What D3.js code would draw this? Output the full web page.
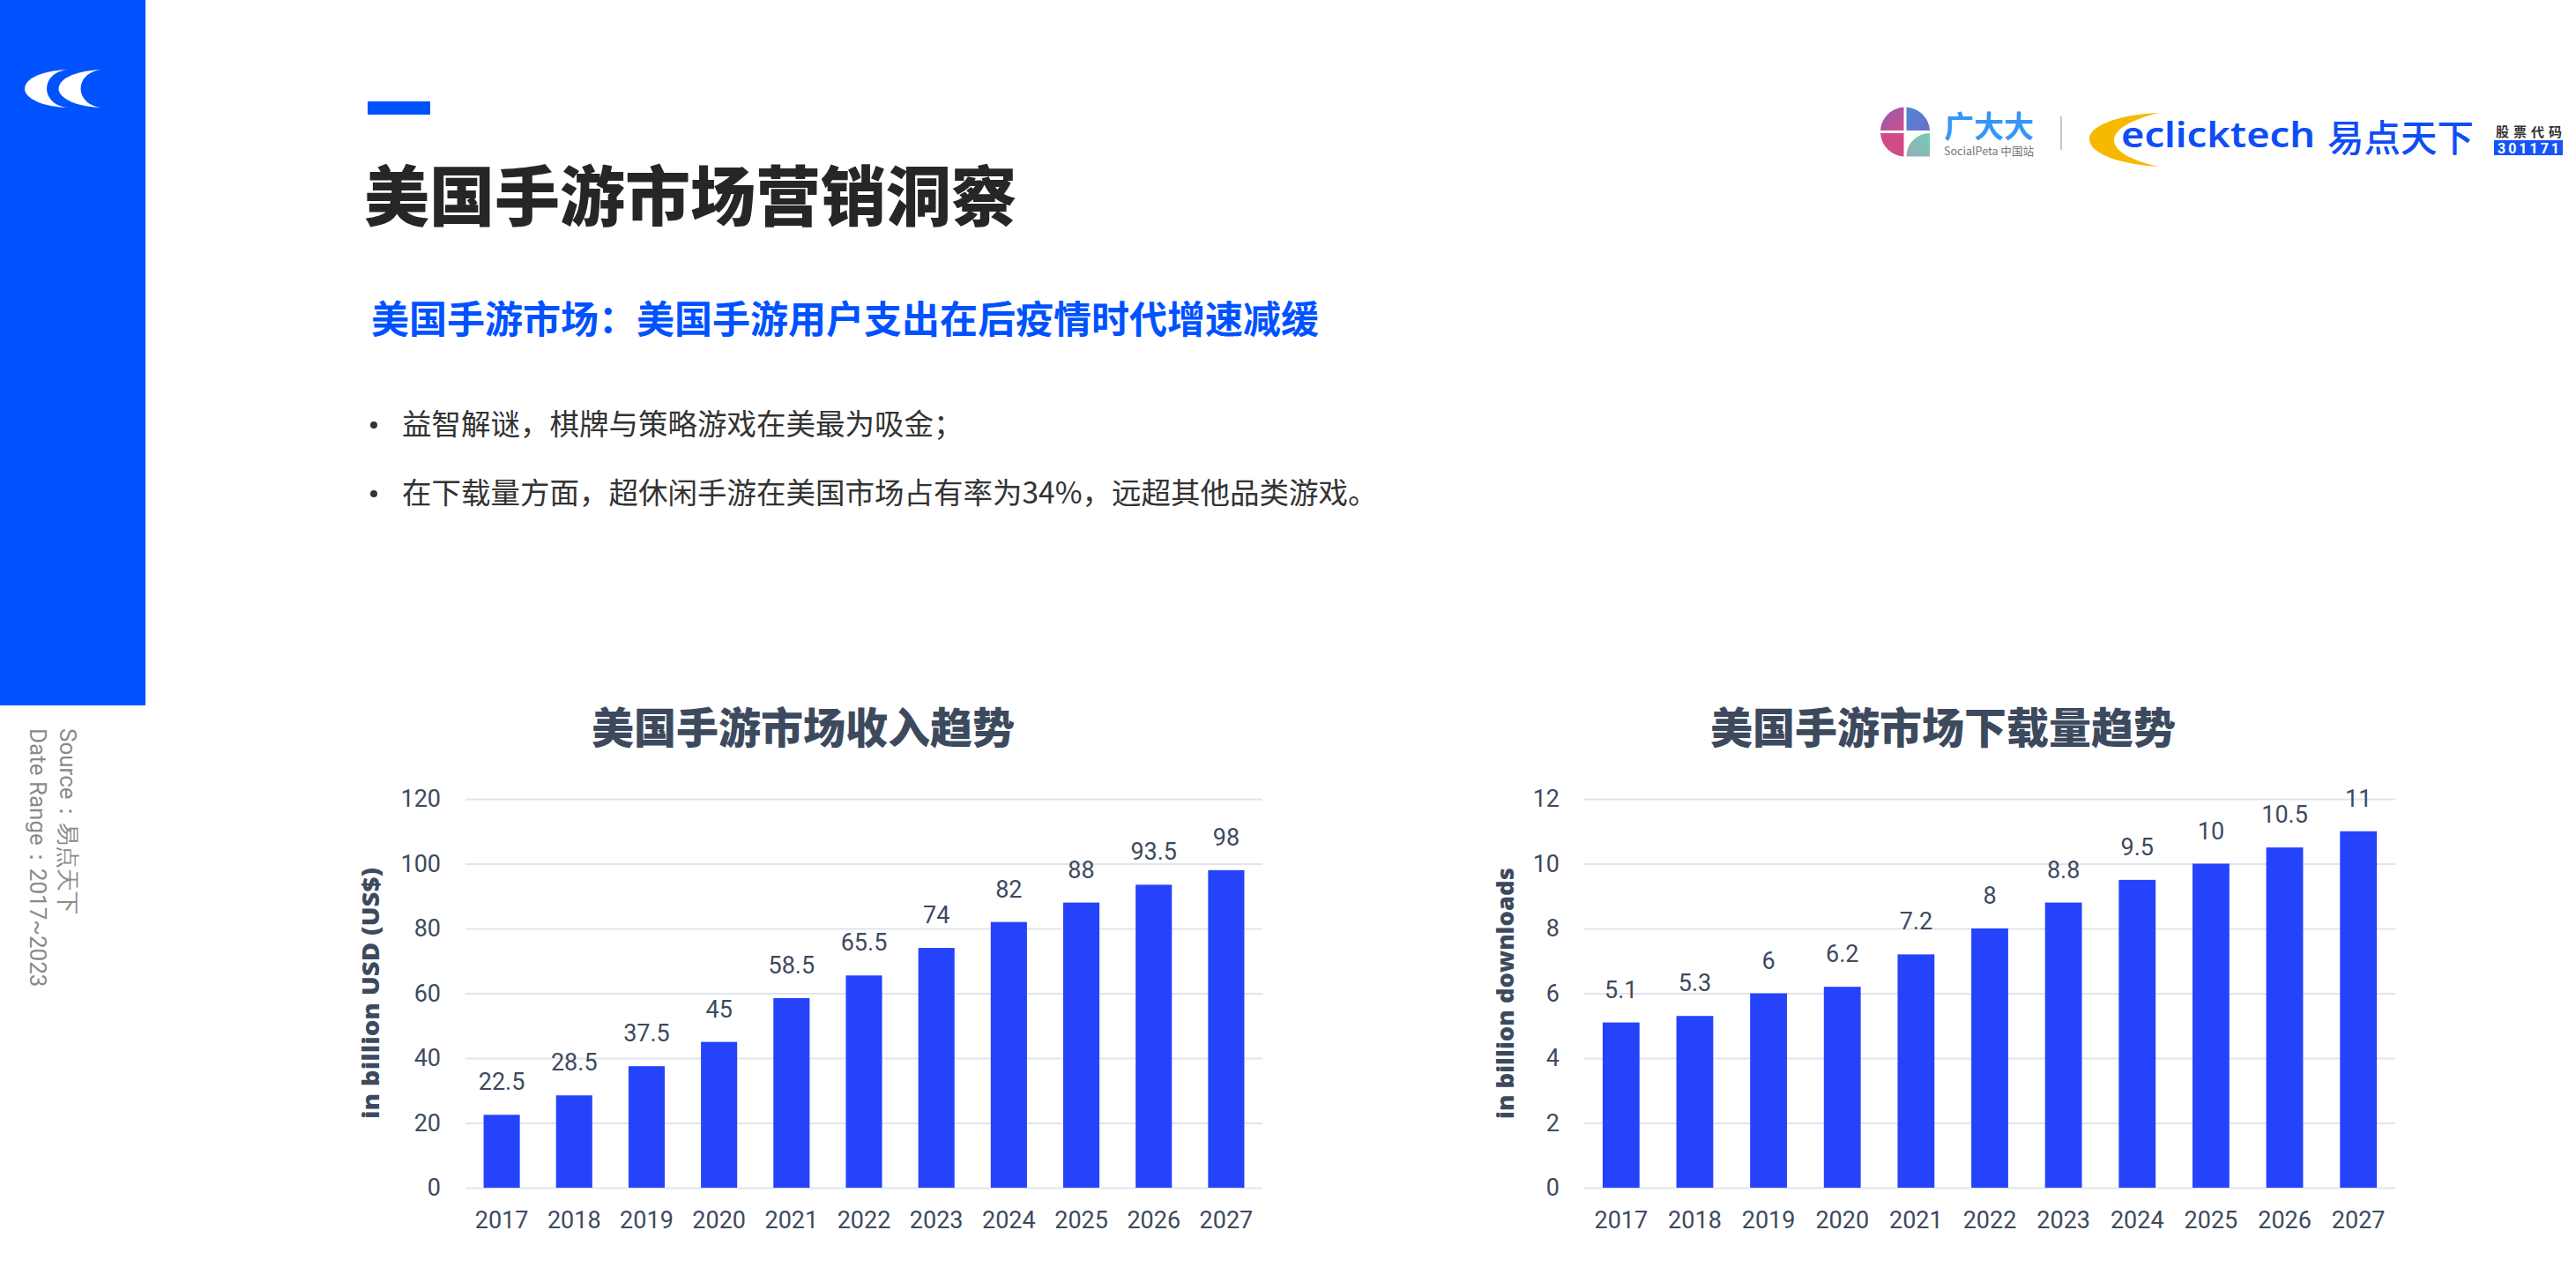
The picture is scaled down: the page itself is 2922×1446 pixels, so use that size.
<!DOCTYPE html>
<html>
<head>
<meta charset="utf-8">
<script src="https://cdn.jsdelivr.net/npm/d3@7"></script>
<style>
  html, body { margin: 0; padding: 0; background: #ffffff; }
  svg { display: block; }
</style>
</head>
<body>
<svg id="page" width="2922" height="1446"></svg>
<script>
// ---------------- DATA ----------------
const years = ["2017", "2018", "2019", "2020", "2021", "2022", "2023", "2024", "2025", "2026", "2027"];
const revenue = [22.5, 28.5, 37.5, 45, 58.5, 65.5, 74, 82, 88, 93.5, 98];
const downloads = [5.1, 5.3, 6, 6.2, 7.2, 8, 8.8, 9.5, 10, 10.5, 11];
const revenueTicks = [0, 20, 40, 60, 80, 100, 120];
const downloadTicks = [0, 2, 4, 6, 8, 10, 12];

const pageTitle = "美国手游市场营销洞察";
const subTitle = "美国手游市场：美国手游用户支出在后疫情时代增速减缓";
const bullets = [
  "益智解谜，棋牌与策略游戏在美最为吸金；",
  "在下载量方面，超休闲手游在美国市场占有率为34%，远超其他品类游戏。"
];
const sourceLines = ["Source：易点天下", "Date Range：2017~2023"];
const revenueTitle = "美国手游市场收入趋势";
const downloadTitle = "美国手游市场下载量趋势";
const revenueAxisTitle = "in billion USD (US$)";
const downloadAxisTitle = "in billion downloads";

// ---------------- STYLE ----------------
const BLUE = "#0052ff";
const BAR = "#2643fc";
const SLATE = "#3d4a5e";
const GRID = "#e1e5eb";
const CJK = "'Noto Sans CJK SC', 'Noto Sans', sans-serif";
const NUM = "Roboto, 'Noto Sans', sans-serif";

const svg = d3.select("#page");
svg.append("rect").attr("width", 2922).attr("height", 1446).attr("fill", "#fff");

// ---------------- SIDEBAR ----------------
svg.append("rect").attr("x", 0).attr("y", 0).attr("width", 165).attr("height", 800).attr("fill", BLUE);
[0, 38.5].forEach(dx => {
  const tx = 78 + dx;
  svg.append("path")
    .attr("d", `M${tx},79 A50,21.5 0 0 0 ${tx},122 A25,21.5 0 0 1 ${tx},79 Z`)
    .attr("fill", "#fff");
});

// source text (vertical)
sourceLines.forEach((t, i) => {
  svg.append("text")
    .attr("transform", `translate(${68 - i * 34},826) rotate(90)`)
    .attr("font-family", NUM)
    .attr("font-size", 26)
    .attr("fill", "#8a8a8a")
    .text(t);
});

// ---------------- HEADER ----------------
svg.append("rect").attr("x", 417).attr("y", 115).attr("width", 71).attr("height", 15).attr("fill", BLUE);
svg.append("text")
  .attr("x", 413).attr("y", 250)
  .attr("font-family", CJK).attr("font-weight", 900).attr("font-size", 74)
  .attr("fill", "#262626")
  .text(pageTitle);

svg.append("text")
  .attr("x", 421).attr("y", 378)
  .attr("font-family", CJK).attr("font-weight", 700).attr("font-size", 43)
  .attr("fill", BLUE)
  .text(subTitle);

bullets.forEach((b, i) => {
  const y = 493 + i * 78;
  svg.append("circle").attr("cx", 424).attr("cy", y - 11).attr("r", 4).attr("fill", "#333");
  svg.append("text")
    .attr("x", 456).attr("y", y)
    .attr("font-family", CJK).attr("font-size", 33.5)
    .attr("fill", "#333")
    .text(b);
});

// ---------------- LOGOS (top right) ----------------
const logo = svg.append("g");
const cx = 2161, cy = 149.5, r = 28;
const defs = svg.append("defs");
const g1 = defs.append("linearGradient").attr("id", "gTL").attr("x1", 0).attr("y1", 0).attr("x2", 1).attr("y2", 1);
g1.append("stop").attr("offset", 0).attr("stop-color", "#8e5bb8");
g1.append("stop").attr("offset", 1).attr("stop-color", "#d04f86");
const g2 = defs.append("linearGradient").attr("id", "gTR").attr("x1", 0).attr("y1", 0).attr("x2", 1).attr("y2", 1);
g2.append("stop").attr("offset", 0).attr("stop-color", "#4f86d6");
g2.append("stop").attr("offset", 1).attr("stop-color", "#6a6fc9");
const g3 = defs.append("linearGradient").attr("id", "gBR").attr("x1", 0).attr("y1", 1).attr("x2", 1).attr("y2", 0);
g3.append("stop").attr("offset", 0).attr("stop-color", "#9aa8b8");
g3.append("stop").attr("offset", 1).attr("stop-color", "#6fd1b2");
const gap = 1.5;
logo.append("path").attr("d", `M${cx - gap},${cy - gap} L${cx - r},${cy - gap} A${r},${r} 0 0 1 ${cx - gap},${cy - r} Z`).attr("fill", "url(#gTL)");
logo.append("path").attr("d", `M${cx + gap},${cy - gap} L${cx + gap},${cy - r} A${r},${r} 0 0 1 ${cx + r},${cy - gap} Z`).attr("fill", "url(#gTR)");
logo.append("path").attr("d", `M${cx - gap},${cy + gap} L${cx - gap},${cy + r} A${r},${r} 0 0 1 ${cx - r},${cy + gap} Z`).attr("fill", "#d14b86");
logo.append("path").attr("d", `M${cx + r},${cy + gap} L${cx + r},${cy + r} L${cx + gap},${cy + r} A${r - gap},${r - gap} 0 0 1 ${cx + r},${cy + gap} Z`).attr("fill", "url(#gBR)");

logo.append("text").attr("x", 2205).attr("y", 156)
  .attr("font-family", CJK).attr("font-weight", 700).attr("font-size", 34)
  .attr("textLength", 102).attr("lengthAdjust", "spacingAndGlyphs")
  .attr("fill", "#3596f8").text("广大大");
logo.append("text").attr("x", 2205).attr("y", 176)
  .attr("font-family", CJK).attr("font-size", 13)
  .attr("textLength", 102).attr("lengthAdjust", "spacingAndGlyphs")
  .attr("fill", "#777").text("SocialPeta 中国站");
logo.append("line").attr("x1", 2338).attr("x2", 2338).attr("y1", 132).attr("y2", 170)
  .attr("stroke", "#c8c8c8").attr("stroke-width", 2);

logo.append("path")
  .attr("d", "M2449,128 C2400,130 2368,144 2370,159 C2372,176 2410,187 2449,189 C2420,183 2398,172 2398,159 C2398,146 2420,135 2449,128 Z")
  .attr("fill", "#f6b900");
logo.append("text").attr("x", 2406).attr("y", 167)
  .attr("font-family", "'Noto Sans', sans-serif").attr("font-weight", 600).attr("font-size", 40)
  .attr("textLength", 220).attr("lengthAdjust", "spacingAndGlyphs")
  .attr("fill", "#0f4df5").text("eclicktech");
logo.append("text").attr("x", 2640).attr("y", 172)
  .attr("font-family", CJK).attr("font-weight", 500).attr("font-size", 42)
  .attr("textLength", 166).attr("lengthAdjust", "spacingAndGlyphs")
  .attr("fill", "#0f4df5").text("易点天下");
logo.append("text").attr("x", 2831).attr("y", 155)
  .attr("font-family", CJK).attr("font-weight", 700).attr("font-size", 15)
  .attr("textLength", 75).attr("lengthAdjust", "spacing")
  .attr("fill", "#333").text("股票代码");
logo.append("rect").attr("x", 2829).attr("y", 159).attr("width", 78).attr("height", 17).attr("fill", "#1554f5");
logo.append("text").attr("x", 2868).attr("y", 173.5).attr("text-anchor", "middle")
  .attr("font-family", NUM).attr("font-weight", 700).attr("font-size", 16)
  .attr("textLength", 70).attr("lengthAdjust", "spacing")
  .attr("fill", "#fff").text("301171");

// ---------------- CHARTS ----------------
function barChart(opts) {
  const { values, ticks, x0, x1, titleX, title, axisTitle, axisTitleX } = opts;
  const yTop = 906, yBottom = 1347;
  const g = svg.append("g");

  const x = d3.scaleBand().domain(years).range([x0, x1]).paddingInner(0.5).paddingOuter(0.25);
  const y = d3.scaleLinear().domain([ticks[0], ticks[ticks.length - 1]]).range([yBottom, yTop]);

  // title
  g.append("text")
    .attr("x", titleX).attr("y", 843).attr("text-anchor", "middle")
    .attr("font-family", CJK).attr("font-weight", 900).attr("font-size", 48)
    .attr("fill", SLATE).text(title);

  // y axis + gridlines
  const yAxis = g.append("g")
    .attr("transform", `translate(${x0},0)`)
    .call(d3.axisLeft(y).tickValues(ticks).tickSize(-(x1 - x0)).tickPadding(28).tickFormat(d3.format("d")));
  yAxis.select(".domain").remove();
  yAxis.selectAll(".tick line").attr("stroke", GRID).attr("stroke-width", 2);
  yAxis.selectAll(".tick text")
    .attr("font-family", NUM).attr("font-size", 27).attr("fill", SLATE);

  // bars
  g.append("g").selectAll("rect")
    .data(values)
    .join("rect")
    .attr("x", (d, i) => x(years[i]))
    .attr("y", d => y(d))
    .attr("width", x.bandwidth())
    .attr("height", d => y(0) - y(d))
    .attr("fill", BAR);

  // value labels
  g.append("g").selectAll("text")
    .data(values)
    .join("text")
    .attr("x", (d, i) => x(years[i]) + x.bandwidth() / 2)
    .attr("y", d => y(d) - 28)
    .attr("text-anchor", "middle")
    .attr("font-family", NUM).attr("font-size", 27).attr("fill", SLATE)
    .text(d => String(d));

  // x axis
  const xAxis = g.append("g")
    .attr("transform", `translate(0,${yBottom})`)
    .call(d3.axisBottom(x).tickSize(0).tickPadding(27));
  xAxis.select(".domain").remove();
  xAxis.selectAll(".tick text")
    .attr("font-family", NUM).attr("font-size", 27).attr("fill", SLATE);

  // axis title
  g.append("text")
    .attr("transform", `translate(${axisTitleX},${(yTop + yBottom) / 2}) rotate(-90)`)
    .attr("dy", "0.35em")
    .attr("text-anchor", "middle")
    .attr("font-family", "'Open Sans', sans-serif").attr("font-weight", 800).attr("font-size", 26)
    .attr("textLength", 285).attr("lengthAdjust", "spacingAndGlyphs")
    .attr("fill", SLATE).text(axisTitle);
}

barChart({
  values: revenue, ticks: revenueTicks, x0: 528, x1: 1432,
  titleX: 911, title: revenueTitle, axisTitle: revenueAxisTitle, axisTitleX: 421
});
barChart({
  values: downloads, ticks: downloadTicks, x0: 1797, x1: 2717,
  titleX: 2204, title: downloadTitle, axisTitle: downloadAxisTitle, axisTitleX: 1708
});
</script>
</body>
</html>
